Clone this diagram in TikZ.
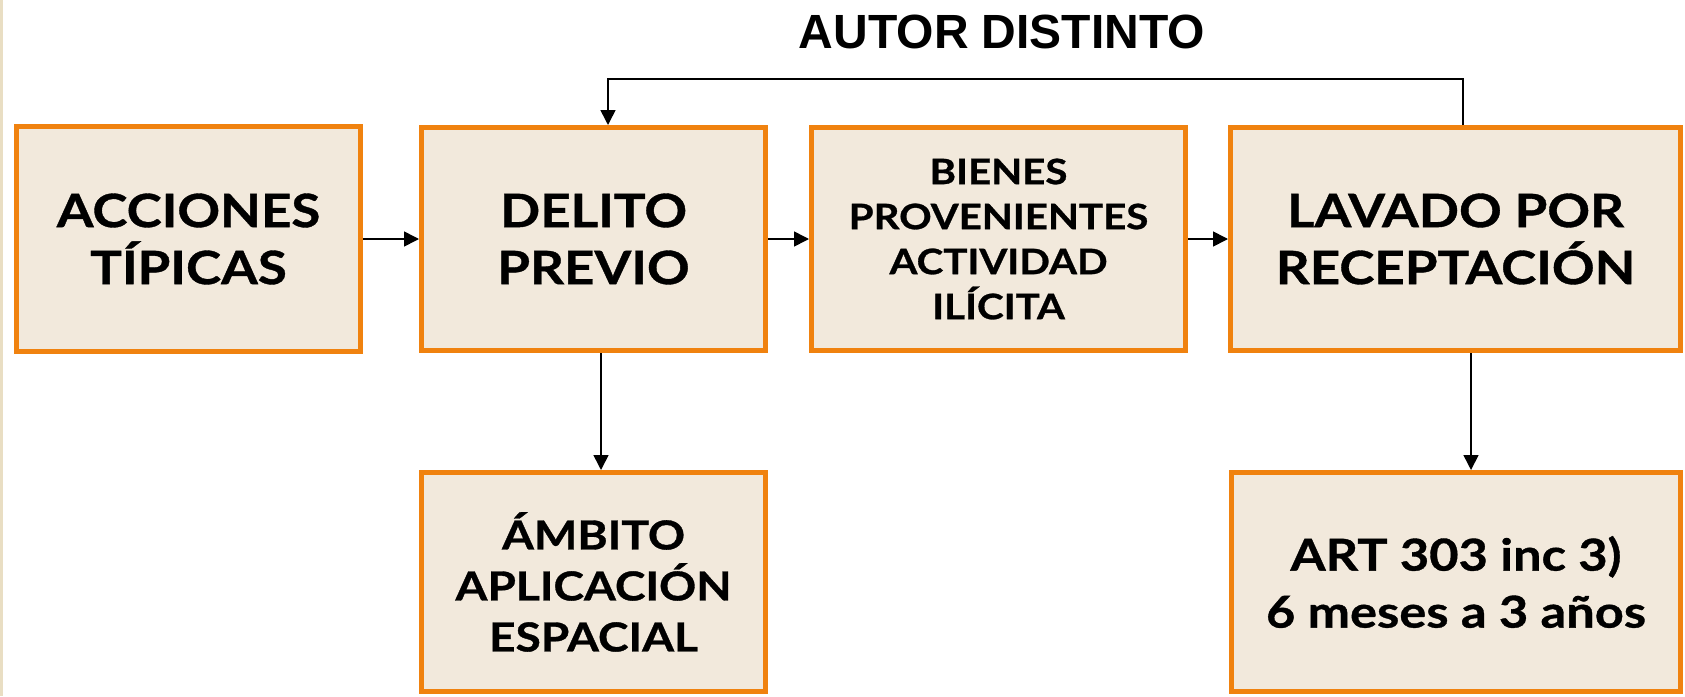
\documentclass[tikz,border=0pt]{standalone}
\usepackage{fontspec}
\setmainfont{Lato}
\newfontfamily\boxfont{Lato}[FakeStretch=1.15,FakeBold=0.8]
\newfontfamily\titlefont{Liberation Sans}
\usetikzlibrary{arrows.meta,calc}
\definecolor{boxfill}{RGB}{242,233,220}
\definecolor{boxline}{RGB}{240,130,15}
\definecolor{stripcol}{RGB}{233,222,195}
\tikzset{
  box/.style={draw=boxline, fill=boxfill, line width=5pt, rectangle, align=center, inner sep=0pt,
    font=\boxfont\bfseries\fontsize{46}{57}\selectfont},
  arr/.style={draw=black, line width=1.6pt, -{Triangle[length=15pt,width=15pt]}},
}
\begin{document}
\begin{tikzpicture}[x=1pt,y=-1pt]
\useasboundingbox (0,0) rectangle (1685,696);
\fill[stripcol] (0,0) rectangle (3,696);
\node[box, minimum width=344pt, minimum height=225pt] (b1) at (188.5,239) {ACCIONES\\TÍPICAS};
\node[box, minimum width=344pt, minimum height=223pt] (b2) at (593.5,239) {DELITO\\PREVIO};
\node[box, minimum width=374pt, minimum height=223pt, font=\boxfont\bfseries\fontsize{35}{45}\selectfont] (b3) at (998.5,239) {BIENES\\PROVENIENTES\\ACTIVIDAD\\ILÍCITA};
\node[box, minimum width=450pt, minimum height=223pt] (b4) at (1455.5,239) {LAVADO POR\\RECEPTACIÓN};
\node[box, minimum width=344pt, minimum height=219pt, font=\boxfont\bfseries\fontsize{40}{51}\selectfont] (b5) at (593.5,582) {ÁMBITO\\APLICACIÓN\\ESPACIAL};
\node[box, minimum width=449pt, minimum height=219pt, font=\boxfont\bfseries\fontsize{44}{57}\selectfont] (b6) at (1456,582) {ART 303 inc 3)\\6 meses a 3 años};
\node[font=\titlefont\bfseries\fontsize{48}{58}\selectfont, anchor=base] (title) at (1002,48) {AUTOR DISTINTO};
\draw[arr] (b1.east) -- (b2.west);
\draw[arr] (b2.east) -- (b3.west);
\draw[arr] (b3.east) -- (b4.west);
\coordinate (fbR) at (1463,79);
\coordinate (fbL) at (608,79);
\draw[arr] (b4.north -| fbR) -- (fbR) -- (fbL) -- (fbL |- b2.north);
\coordinate (d1) at (601,0);
\coordinate (d2) at (1471,0);
\draw[arr] (b2.south -| d1) -- (b5.north -| d1);
\draw[arr] (b4.south -| d2) -- (b6.north -| d2);
\end{tikzpicture}
\end{document}
